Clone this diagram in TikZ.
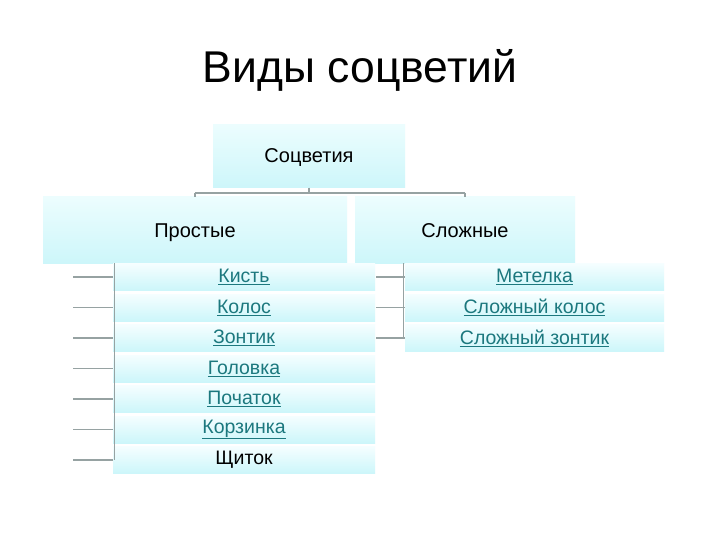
\documentclass[tikz,border=0pt]{standalone}
\usepackage{fontspec}
\setmainfont{Liberation Sans}
\definecolor{boxtop}{RGB}{236,253,254}
\definecolor{boxbot}{RGB}{205,246,250}
\definecolor{rowtop}{RGB}{245,254,255}
\definecolor{rowbot}{RGB}{204,246,250}
\definecolor{linkc}{RGB}{28,120,126}
\definecolor{conn}{RGB}{150,162,162}
\tikzset{
  bigbox/.style={top color=boxtop, bottom color=boxbot, draw=none, inner sep=0pt, text height=14pt, text depth=0pt, font=\fontsize{20}{24}\selectfont},
  rowbox/.style={top color=rowtop, bottom color=rowbot, draw=none, inner sep=0pt, minimum height=27pt, font=\fontsize{19.5}{23}\selectfont},
  leftrow/.style={rowbox, minimum width=262pt},
  rightrow/.style={rowbox, minimum width=259pt},
  conn/.style={draw=conn, line width=1.3pt},
}
\newcommand{\lk}[1]{\textcolor{linkc}{\underline{#1}}}
\begin{document}
\begin{tikzpicture}[x=1pt,y=-1pt]
\useasboundingbox[fill=white] (0,0) rectangle (720,540);
\node[font=\fontsize{44.5}{52}\selectfont] (title) at (360,70) {Виды соцветий};
% boxes
\node[bigbox, minimum width=192pt, minimum height=63pt] (root) at (309,156) {Соцветия};
\node[bigbox, minimum width=304pt, minimum height=66pt] (simple) at (195,230) {Простые};
\node[bigbox, minimum width=220pt, minimum height=66pt] (compl) at (465,230) {Сложные};
% connectors top
\coordinate (hl) at (195,193);
\coordinate (hr) at (465,193);
\draw[conn] (root.south) -- (root.south |- hl);
\draw[conn] (hl) -- (hr);
\draw[conn] (hl) -- (simple.north -| hl);
\draw[conn] (hr) -- (compl.north -| hr);
% left rows
\node[leftrow] (l1) at (244,277) {\lk{Кисть}};
\node[leftrow] (l2) at (244,307.5) {\lk{Колос}};
\node[leftrow] (l3) at (244,338) {\lk{Зонтик}};
\node[leftrow] (l4) at (244,368.5) {\lk{Головка}};
\node[leftrow] (l5) at (244,399) {\lk{Початок}};
\node[leftrow] (l6) at (244,429.5) {\lk{Корзинка}};
\node[leftrow] (l7) at (244,460) {Щиток};
% right rows
\node[rightrow] (r1) at (534.5,277) {\lk{Метелка}};
\node[rightrow] (r2) at (534.5,307.5) {\lk{Сложный колос}};
\node[rightrow] (r3) at (534.5,338) {\lk{Сложный зонтик}};
% left connectors
\coordinate (lv) at (114,263);
\foreach \i in {1,...,7}{
  \coordinate (ls\i) at (73,0 |- l\i.west);
  \draw[conn] (ls\i) -- (l\i.west);
}
\draw[conn, line width=1pt] (lv) -- (lv |- l7.west);
% right connectors
\coordinate (rv) at (403,263);
\foreach \i in {1,2,3}{
  \coordinate (rs\i) at (376,0 |- r\i.west);
  \draw[conn] (rs\i) -- (r\i.west);
}
\draw[conn, line width=1pt] (rv) -- (rv |- r3.west);
\end{tikzpicture}
\end{document}
